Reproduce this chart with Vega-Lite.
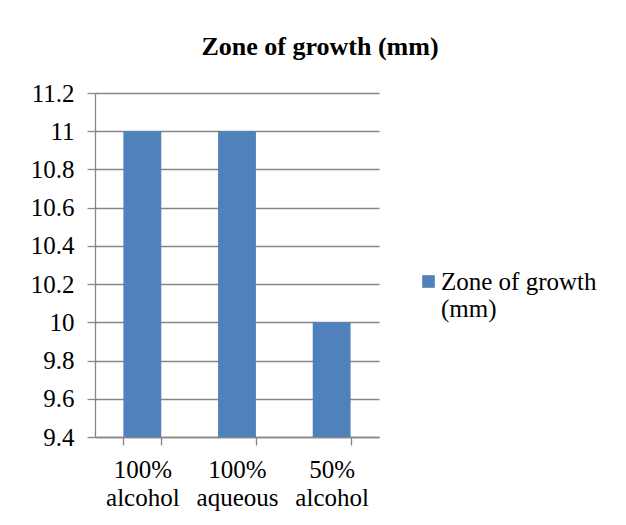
{
  "$schema": "https://vega.github.io/schema/vega-lite/v6.json",
  "width": 284,
  "height": 344,
  "autosize": "none",
  "padding": {"left": 95, "top": 93, "right": 247, "bottom": 88},
  "background": "white",
  "title": {
    "text": "Zone of growth (mm)",
    "font": "Liberation Serif",
    "fontSize": 26,
    "fontWeight": "bold",
    "color": "black",
    "anchor": "middle",
    "dx": 83,
    "offset": 21
  },
  "data": {
    "values": [
      {"category": "100% alcohol", "value": 11, "series": "Zone of growth (mm)"},
      {"category": "100% aqueous", "value": 11, "series": "Zone of growth (mm)"},
      {"category": "50% alcohol", "value": 10, "series": "Zone of growth (mm)"}
    ]
  },
  "mark": {"type": "bar", "clip": true},
  "encoding": {
    "x": {
      "field": "category",
      "type": "nominal",
      "sort": null,
      "scale": {"paddingInner": 0.6, "paddingOuter": 0.3},
      "axis": {
        "title": null,
        "labelAngle": 0,
        "labelExpr": "split(datum.label, ' ')",
        "labelLineHeight": 28,
        "tickBand": "extent",
        "tickSize": 8,
        "labelPadding": 12,
        "grid": false
      }
    },
    "y": {
      "field": "value",
      "type": "quantitative",
      "scale": {"domain": [9.4, 11.2], "zero": false, "nice": false},
      "axis": {
        "title": null,
        "values": [9.4, 9.6, 9.8, 10, 10.2, 10.4, 10.6, 10.8, 11, 11.2],
        "format": "~f",
        "tickSize": 8,
        "labelPadding": 13,
        "grid": true
      }
    },
    "color": {
      "field": "series",
      "type": "nominal",
      "scale": {"range": ["#4F81BD"]},
      "legend": {
        "title": null,
        "orient": "none",
        "legendX": 321,
        "legendY": 176,
        "symbolType": "square",
        "symbolSize": 160,
        "symbolStrokeWidth": 0,
        "labelExpr": "['Zone of growth', '(mm)']",
        "labelBaseline": "middle",
        "labelOffset": 0,
        "labelLimit": 300,
        "labelLineHeight": 31,
        "padding": 0
      }
    }
  },
  "config": {
    "view": {"stroke": null},
    "font": "Liberation Serif",
    "axis": {
      "labelFont": "Liberation Serif",
      "labelFontSize": 25,
      "labelColor": "black",
      "domainColor": "#868686",
      "tickColor": "#868686",
      "gridColor": "#868686",
      "domainWidth": 1.3,
      "tickWidth": 1.3,
      "gridWidth": 1.3
    },
    "legend": {
      "labelFont": "Liberation Serif",
      "labelFontSize": 25,
      "labelColor": "black"
    }
  }
}
